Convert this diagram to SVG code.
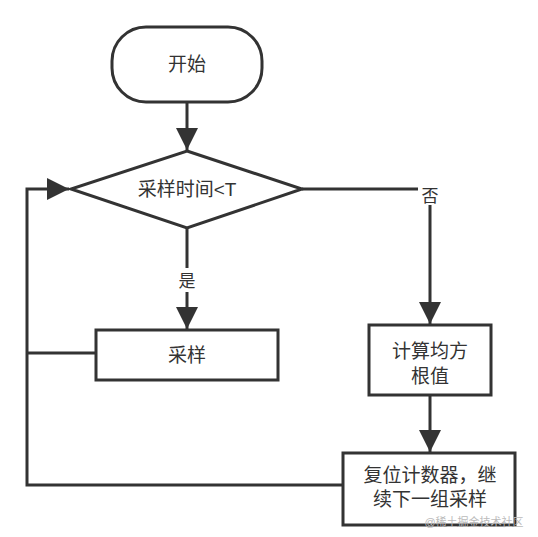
<svg xmlns="http://www.w3.org/2000/svg" width="538" height="537" viewBox="0 0 538 537">
<style>
.shape{fill:#fff;stroke:#333;stroke-width:3}
.line{fill:none;stroke:#333;stroke-width:3}
.t{font-family:"Liberation Sans","Noto Sans CJK SC",sans-serif;font-size:19px;fill:#333;text-anchor:middle}
.lbl{font-family:"Liberation Sans","Noto Sans CJK SC",sans-serif;font-size:17px;fill:#333;text-anchor:middle}
</style>
<defs>
<marker id="arrB" viewBox="0 0 10 10" refX="10" refY="5" markerWidth="22" markerHeight="22" orient="auto" markerUnits="userSpaceOnUse">
<path d="M0,0 L10,5 L0,10 Z" fill="#333"/>
</marker>
</defs>
<rect width="538" height="537" fill="#fff"/>
<g id="connectors">
<path class="line" d="M187,102 V150" marker-end="url(#arrB)"/>
<path class="line" d="M187,228 V329" marker-end="url(#arrB)"/>
<path class="line" d="M302,189 H430 V324" marker-end="url(#arrB)"/>
<path class="line" d="M430,395 V452" marker-end="url(#arrB)"/>
<path class="line" d="M96,353 H27"/>
<path class="line" d="M343,485 H27 V189 H69" marker-end="url(#arrB)"/>
<rect x="165" y="268" width="44" height="24" fill="#fff"/>
<text class="lbl" x="187" y="287">是</text>
<rect x="418" y="183" width="24" height="22" fill="#fff"/>
<text class="lbl" x="430" y="202">否</text>
</g>
<g id="start">
<rect class="shape" x="112" y="27" width="150" height="75" rx="34" ry="34"/>
<text class="t" x="187" y="71">开始</text>
</g>
<g id="decision">
<polygon class="shape" points="187,151 302,189 187,228 71,189"/>
<text class="t" x="187" y="196">采样时间&lt;T</text>
</g>
<g id="sample">
<rect class="shape" x="96" y="330" width="182" height="50"/>
<text class="t" x="187" y="362">采样</text>
</g>
<g id="rms">
<rect class="shape" x="369" y="325" width="122" height="70"/>
<text class="t" x="430" y="358">计算均方</text>
<text class="t" x="430" y="383">根值</text>
</g>
<g id="reset">
<rect class="shape" x="343" y="453" width="172" height="72"/>
<text class="t" x="430" y="482">复位计数器，继</text>
<text class="t" x="430" y="506">续下一组采样</text>
</g>
<text x="474" y="526" font-family="Liberation Sans,Noto Sans CJK SC,sans-serif" font-size="11" fill="#bbb" text-anchor="middle">@稀土掘金技术社区</text>
</svg>
